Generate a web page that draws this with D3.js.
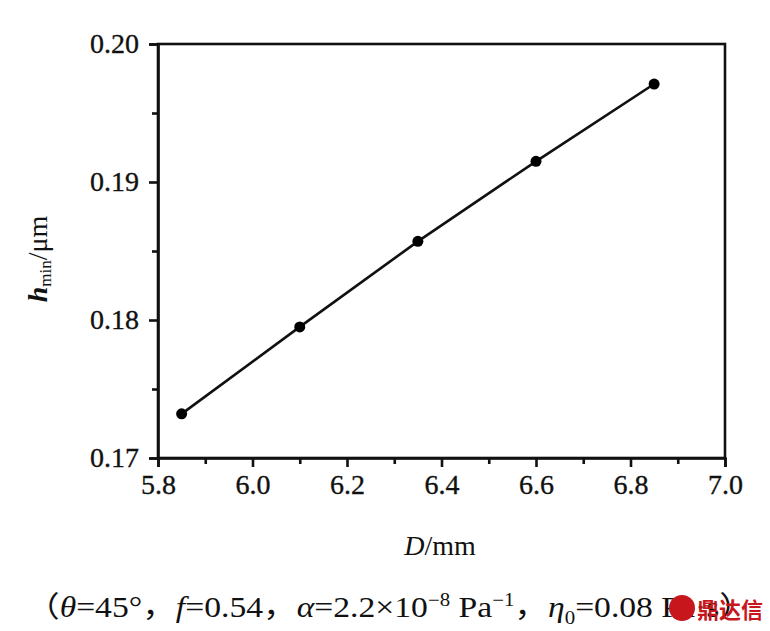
<!DOCTYPE html>
<html><head><meta charset="utf-8">
<script src="https://cdn.jsdelivr.net/npm/d3@7"></script>
<style>body{margin:0;background:#fff}svg{display:block}text{font-family:"Liberation Serif","Times New Roman",serif}</style>
</head><body>
<script>
const D_values = [5.85, 6.10, 6.35, 6.60, 6.85];
const hmin_values = [0.1732, 0.1795, 0.1857, 0.1915, 0.1971];
const xTicks = [5.8, 6.0, 6.2, 6.4, 6.6, 6.8, 7.0];
const yTicks = [0.17, 0.18, 0.19, 0.20];

const W = 770, H = 631;
const m = {left: 158, right: 45, top: 44, bottom: 173};
const SERIF = "Liberation Serif";
const svg = d3.select("body").append("svg").attr("width", W).attr("height", H)
  .attr("font-family", SERIF);

const x = d3.scaleLinear().domain([5.8, 7.0]).range([m.left, W - m.right]);
const y = d3.scaleLinear().domain([0.17, 0.20]).range([H - m.bottom, m.top]);

// frame
svg.append("rect").attr("x", x(5.8)).attr("y", y(0.20)).attr("width", x(7.0) - x(5.8))
  .attr("height", y(0.17) - y(0.20)).attr("fill", "none").attr("stroke", "#111").attr("stroke-width", 2.6);

// x axis
const xAxis = d3.axisBottom(x).tickValues(xTicks).tickFormat(d3.format(".1f")).tickSize(9).tickPadding(7);
svg.append("g").attr("transform", `translate(0,${y(0.17)})`).call(xAxis);
const xMinor = d3.range(0, 13).map(i => 5.8 + i * 0.1).filter(v => !xTicks.some(t => Math.abs(t - v) < 1e-9));
svg.append("g").attr("transform", `translate(0,${y(0.17)})`)
  .call(d3.axisBottom(x).tickValues(xMinor).tickSize(6).tickFormat(""))
  .call(s => s.select(".domain").remove());

// y axis
const yAxis = d3.axisLeft(y).tickValues(yTicks).tickFormat(d3.format(".2f")).tickSize(9).tickPadding(10);
svg.append("g").attr("transform", `translate(${x(5.8)},0)`).call(yAxis);
const yMinor = [0.175, 0.185, 0.195];
svg.append("g").attr("transform", `translate(${x(5.8)},0)`)
  .call(d3.axisLeft(y).tickValues(yMinor).tickSize(6).tickFormat(""))
  .call(s => s.select(".domain").remove());

svg.selectAll("g").attr("font-family", SERIF);
svg.selectAll(".domain").attr("stroke", "#111").attr("stroke-width", 2.6);
svg.selectAll(".tick line").attr("stroke", "#111").attr("stroke-width", 2.6);
svg.selectAll(".tick text").attr("font-size", 28).attr("fill", "#111").attr("font-family", SERIF)
  .attr("stroke", "#111").attr("stroke-width", 0.35);

// line + points
const pts = D_values.map((d, i) => [d, hmin_values[i]]);
svg.append("path").datum(pts).attr("fill", "none").attr("stroke", "#111").attr("stroke-width", 2.6)
  .attr("d", d3.line().x(d => x(d[0])).y(d => y(d[1])));
svg.selectAll("circle.pt").data(pts).enter().append("circle").attr("class", "pt")
  .attr("cx", d => x(d[0])).attr("cy", d => y(d[1])).attr("r", 5.5).attr("fill", "#000");

// axis labels
const xl = svg.append("text").attr("x", 440).attr("y", 555).attr("text-anchor", "middle")
  .attr("font-size", 28).attr("fill", "#111");
xl.append("tspan").attr("font-style", "italic").text("D");
xl.append("tspan").text("/mm");

const yl = svg.append("text").attr("transform", "translate(47,259) rotate(-90)")
  .attr("text-anchor", "middle").attr("font-size", 28).attr("fill", "#111");
yl.append("tspan").attr("font-style", "italic").attr("font-weight", "bold").text("h");
yl.append("tspan").attr("font-size", 17).attr("dy", 4).text("min");
yl.append("tspan").attr("dy", -4).text("/μm");

// caption
const cap = svg.append("text").attr("transform", "translate(26,617) scale(1.16,1)")
  .attr("font-size", 29).attr("fill", "#111");
const FW = "'Noto Sans CJK SC',sans-serif";
cap.append("tspan").style("font-family", FW).text("（");
cap.append("tspan").attr("font-style", "italic").text("θ");
cap.append("tspan").text("=45°");
cap.append("tspan").style("font-family", FW).text("，");
cap.append("tspan").attr("font-style", "italic").text("f");
cap.append("tspan").text("=0.54");
cap.append("tspan").style("font-family", FW).text("，");
cap.append("tspan").attr("font-style", "italic").text("α");
cap.append("tspan").text("=2.2×10");
cap.append("tspan").attr("font-size", 18).attr("dy", -11).text("−8");
cap.append("tspan").attr("dy", 11).text(" Pa");
cap.append("tspan").attr("font-size", 18).attr("dy", -11).text("−1");
cap.append("tspan").attr("dy", 11).style("font-family", FW).text("，");
cap.append("tspan").attr("font-style", "italic").text("η");
cap.append("tspan").attr("font-size", 18).attr("dy", 7).text("0");
cap.append("tspan").attr("dy", -7).text("=0.08 Pa·s");
cap.append("tspan").style("font-family", FW).text("）");

// watermark
svg.append("circle").attr("cx", 682).attr("cy", 608).attr("r", 13).attr("fill", "#c8161d");
svg.append("text").attr("x", 697).attr("y", 618).attr("font-size", 22).attr("font-weight", "bold")
  .attr("fill", "#c8161d").style("font-family", "'Noto Sans CJK SC',sans-serif").text("鼎达信");
</script>
</body></html>
